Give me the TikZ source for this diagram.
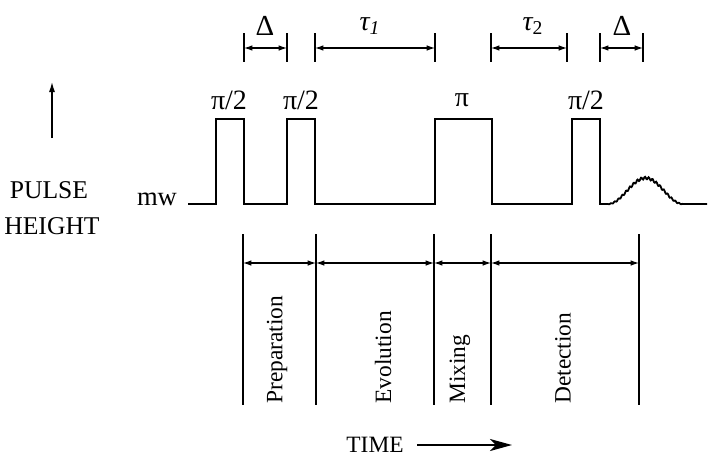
\documentclass[tikz,border=0pt]{standalone}
\usepackage{fontspec}
\setmainfont{Liberation Serif}
\usetikzlibrary{arrows.meta}

\begin{document}
\begin{tikzpicture}[x=0.5pt,y=-0.5pt,
    pulse/.style={line width=1.3pt, line join=miter},
    sepline/.style={line width=0.55pt},
    dimarrow/.style={line width=0.55pt,
      {Latex[length=4.2pt,width=2.8pt]}-{Latex[length=4.2pt,width=2.8pt]}},
    lbl/.style={font=\fontsize{11.7}{14}\selectfont, inner sep=0pt},
    axlbl/.style={font=\fontsize{12.8}{15}\selectfont, inner sep=0pt},
    pilbl/.style={font=\fontsize{14}{16}\selectfont, inner sep=0pt}]
  \useasboundingbox (0,0) rectangle (710,455);

  % pulse train
  \draw[pulse] (188,204) -- (216,204) -- (216,119) -- (244,119) -- (244,204)
    -- (287,204) -- (287,119) -- (315,119) -- (315,204)
    -- (435,204) -- (435,119) -- (492,119) -- (492,204)
    -- (572,204) -- (572,119) -- (600,119) -- (600,204) -- (608,204);
  \draw[line width=0.9pt] plot[domain=0:75, samples=110]
    ({608+\x}, {204 - 26*pow(sin(2.4*\x),2) + 1.3*sin(95*\x)*pow(sin(2.4*\x),0.5)})
    -- (707,204);

  % pulse labels
  \node[pilbl] (p1) at (229,100) {π/2};
  \node[pilbl] (p2) at (301,100) {π/2};
  \node[pilbl] (p3) at (462,100) {π};
  \node[pilbl] (p4) at (586,100) {π/2};
  \node[axlbl, font=\fontsize{13.3}{15}\selectfont] (mw) at (157,199) {mw};

  % delays
  \foreach \n/\x in {da/244,db/287,ta/315,tb/435,tc/491,td/567,de/600,df/643}{
    \draw[sepline] (\x,33) -- (\x,62);
    \coordinate (\n) at (\x,48);
  }
  \draw[dimarrow] (da) -- (db);
  \draw[dimarrow] (ta) -- (tb);
  \draw[dimarrow] (tc) -- (td);
  \draw[dimarrow] (de) -- (df);
  \node[pilbl, font=\fontsize{14.5}{16}\selectfont] (delta1) at (265,26) {Δ};
  \node[pilbl] (tau1) at (370,26) {\itshape τ\textsubscript{1}};
  \node[pilbl] (tau2) at (533,26) {\itshape τ\textsubscript{\upshape 2}};
  \node[pilbl, font=\fontsize{14.5}{16}\selectfont] (delta2) at (622,26) {Δ};

  % axis labels
  \coordinate (ya) at (52,138);
  \coordinate (yb) at (52,82);
  \draw[line width=0.6pt, -{Latex[length=5pt,width=3pt]}] (ya) -- (yb);
  \node[axlbl] (pulse) at (49,190.5) {PULSE};
  \node[axlbl] (height) at (52,226) {HEIGHT};

  % periods
  \foreach \n/\x in {s1/243,s2/316,s3/434,s4/491,s5/639}{
    \draw[sepline] (\x,234) -- (\x,405);
    \coordinate (\n) at (\x,263);
  }
  \draw[dimarrow] (s1) -- (s2);
  \draw[dimarrow] (s2) -- (s3);
  \draw[dimarrow] (s3) -- (s4);
  \draw[dimarrow] (s4) -- (s5);
  \node[lbl, rotate=90, anchor=west] (prep) at (277,404) {Preparation};
  \node[lbl, rotate=90, anchor=west] (evol) at (383,404) {Evolution};
  \node[lbl, rotate=90, anchor=west] (mix) at (460,404) {Mixing};
  \node[lbl, rotate=90, anchor=west] (det) at (563,404) {Detection};

  % time axis
  \node[lbl] (time) at (375,445) {TIME};
  \coordinate (ta1) at (417,445);
  \coordinate (ta2) at (512,445);
  \draw[line width=1pt, -{Stealth[length=11pt,width=6pt,inset=3pt]}] (ta1) -- (ta2);
\end{tikzpicture}
\end{document}
